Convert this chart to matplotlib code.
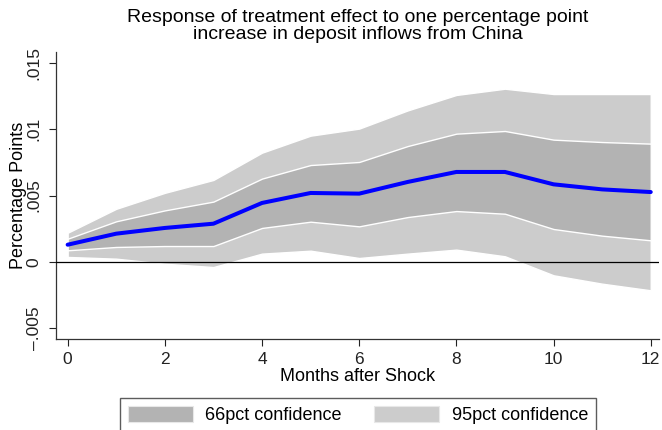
import numpy as np
import matplotlib
matplotlib.use('Agg')
import matplotlib.pyplot as plt
from matplotlib.patches import Patch

plt.rcParams['font.family'] = ['Liberation Sans', 'DejaVu Sans']

# Impulse response and confidence bands by month
months = [0, 1, 2, 3, 4, 5, 6, 7, 8, 9, 10, 11, 12]
irf = [0.0013, 0.00213, 0.00256, 0.00288, 0.00444, 0.00519, 0.00514,
       0.00602, 0.00677, 0.00677, 0.00584, 0.00546, 0.00526]
ci66_upper = [0.00175, 0.00306, 0.00388, 0.00454, 0.00627, 0.00729, 0.00752,
              0.00872, 0.00965, 0.00985, 0.0092, 0.00902, 0.0089]
ci66_lower = [0.00088, 0.00113, 0.0012, 0.0012, 0.00256, 0.00303, 0.00268,
              0.00338, 0.00383, 0.00363, 0.00248, 0.00198, 0.00163]
ci95_upper = [0.0022, 0.0040, 0.0052, 0.00617, 0.00822, 0.0095, 0.01003,
              0.0114, 0.01256, 0.01303, 0.01263, 0.01263, 0.01263]
ci95_lower = [0.00038, 0.00025, -0.00013, -0.00038, 0.00063, 0.00085, 0.0003,
              0.00063, 0.00093, 0.00043, -0.001, -0.00163, -0.00213]

yticks = [-0.005, 0, 0.005, 0.01, 0.015]
ytick_labels = ['\u2013.005', '0', '.005', '.01', '.015']
xticks = [0, 2, 4, 6, 8, 10, 12]

fig = plt.figure(figsize=(6.62, 4.30), dpi=100)
ax = fig.add_axes([55.5 / 662, 1 - 339 / 430, (659 - 55.5) / 662, (339 - 52) / 430])

band95 = '#cccccc'
band66 = '#b3b3b3'

ax.fill_between(months, ci95_lower, ci95_upper, color=band95,
                edgecolor='white', linewidth=1.0, zorder=1)
ax.fill_between(months, ci66_lower, ci66_upper, color=band66,
                edgecolor='white', linewidth=1.0, zorder=2)
ax.axhline(0, color='black', linewidth=0.9, zorder=3)
ax.plot(months, irf, color='#0000ff', linewidth=2.9, zorder=4,
        solid_capstyle='round')

ax.set_xlim(-0.25, 12.17)
ax.set_ylim(-0.00579, 0.01579)
ax.set_xticks(xticks)
ax.set_yticks(yticks)
ax.set_yticklabels(ytick_labels, rotation=90, va='center')
ax.tick_params(axis='both', direction='out', length=5, width=0.8,
               labelsize=12.5, colors='#222222')
ax.tick_params(axis='x', pad=4)
ax.tick_params(axis='y', pad=5)

for side in ['top', 'right']:
    ax.spines[side].set_visible(False)
for side in ['left', 'bottom']:
    ax.spines[side].set_color('#333333')
    ax.spines[side].set_linewidth(0.9)

ax.set_xlabel('Months after Shock', fontsize=13, labelpad=1)
ax.set_ylabel('Percentage Points', fontsize=13, labelpad=0)

fig.text(0.541, 1 - 26 / 430, 'Response of treatment effect to one percentage point\n'
         'increase in deposit inflows from China',
         ha='center', va='center', fontsize=14, linespacing=1.0)

handles = [Patch(facecolor=band66, edgecolor='#e8e8e8', linewidth=0.8,
                 label='66pct confidence'),
           Patch(facecolor=band95, edgecolor='#e8e8e8', linewidth=0.8,
                 label='95pct confidence')]
leg = fig.legend(handles=handles, loc='upper center', ncol=2,
                 bbox_to_anchor=(358 / 662, 1 - 398 / 430), fontsize=13,
                 frameon=True, fancybox=False, handlelength=3.6,
                 handleheight=0.95, handletextpad=0.7, columnspacing=1.8,
                 borderpad=0.45, borderaxespad=0)
leg.get_frame().set_edgecolor('#333333')
leg.get_frame().set_linewidth(1.0)

fig.savefig('out.png', dpi=100)
